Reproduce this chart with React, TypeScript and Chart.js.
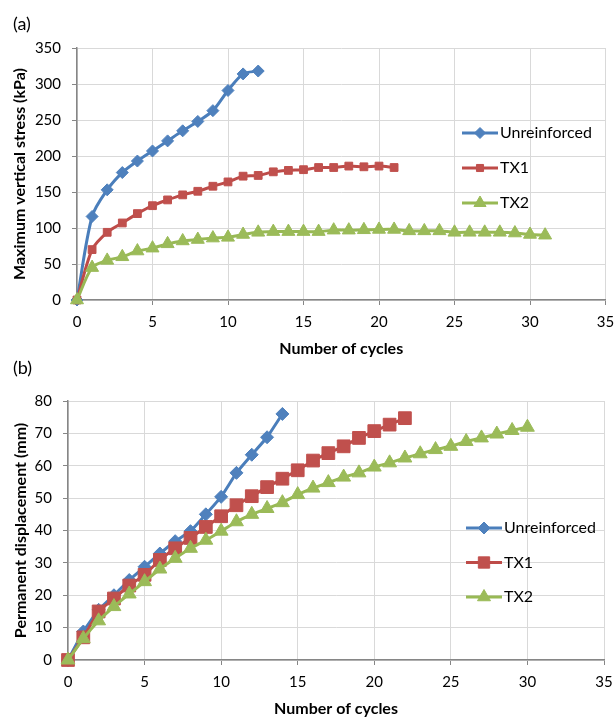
import React, { useEffect, useRef } from 'react';
import { Chart, registerables } from 'chart.js';
import { drawPoint } from 'chart.js/helpers';

Chart.register(...registerables);

// ---------- data ----------
const cycles = [0, 1, 2, 3, 4, 5, 6, 7, 8, 9, 10, 11, 12, 13, 14, 15, 16, 17, 18, 19, 20, 21, 22, 23, 24, 25, 26, 27, 28, 29, 30, 31];
const seriesNames = ['Unreinforced', 'TX1', 'TX2'];

// (a) Maximum vertical stress (kPa)
const stressUnreinforced = [0, 116, 153, 177, 193, 207, 221, 235, 248, 263, 291, 314, 318];
const stressTX1 = [0, 70, 94, 107, 120, 131, 139, 146, 151, 158, 164, 172, 173, 178, 180, 181, 184, 184, 186, 185, 186, 184];
const stressTX2 = [0, 45, 55, 60, 68, 72, 78, 82, 84, 86, 87, 91, 94, 95, 95, 95, 95, 97, 97, 97.5, 98, 98, 96, 96, 96, 94, 94, 94, 94, 93, 91, 90];

// (b) Permanent displacement (mm)
const dispUnreinforced = [0, 8.8, 15.5, 20, 24.7, 28.8, 32.9, 36.7, 39.8, 45, 50.4, 57.8, 63.4, 68.8, 76];
const dispTX1 = [0, 7, 15, 19, 23, 26.3, 30.9, 34.5, 37.7, 41.1, 44.4, 47.8, 50.6, 53.4, 56, 58.6, 61.6, 63.9, 66, 68.6, 70.7, 72.7, 74.7];
const dispTX2 = [0, 6.6, 12.1, 16.5, 20.4, 24.2, 28.1, 31.4, 34.5, 37, 39.8, 42.7, 45, 46.8, 48.6, 51.1, 53.1, 54.8, 56.5, 57.8, 59.6, 60.9, 62.4, 63.7, 65, 66, 67.5, 68.6, 69.8, 70.9, 71.9];

const xTicksMax = 35;
const xTickStep = 5;
const stressMax = 350;
const stressStep = 50;
const dispMax = 80;
const dispStep = 10;

// ---------- styles ----------
const FONT = 'Lato, "Open Sans", sans-serif';
const LINE_COLORS = ['#4A7EBB', '#BE4B48', '#98B954'];
const FILL_COLORS = ['#4F81BD', '#C0504D', '#9BBB59'];
const POINT_STYLES = ['rectRot', 'rect', 'triangle'];
const GRID = '#D9D9D9';
const AXIS = '#868686';

const toXY = (vals: number[]) => vals.map((v, i) => ({ x: cycles[i], y: v }));

const legendPlugin = {
  id: 'inlineLegend',
  afterDraw(chart: any, _args: any, opts: any) {
    const ctx = chart.ctx;
    ctx.save();
    chart.data.datasets.forEach((ds: any, i: number) => {
      const cy = opts.y + i * opts.rowGap;
      ctx.strokeStyle = ds.borderColor;
      ctx.lineWidth = ds.borderWidth;
      ctx.beginPath();
      ctx.moveTo(opts.x, cy);
      ctx.lineTo(opts.x + opts.lineLen, cy);
      ctx.stroke();
      ctx.fillStyle = ds.pointBackgroundColor;
      ctx.strokeStyle = ds.pointBorderColor;
      ctx.lineWidth = ds.pointBorderWidth;
      drawPoint(ctx, { pointStyle: ds.pointStyle, rotation: 0, radius: opts.markerRadius[i], borderWidth: ds.pointBorderWidth }, opts.x + opts.lineLen / 2, cy);
      ctx.fillStyle = '#000';
      ctx.font = `16px ${FONT}`;
      ctx.textBaseline = 'middle';
      ctx.textAlign = 'left';
      ctx.fillText(ds.label, opts.x + opts.lineLen + 2, cy);
    });
    ctx.restore();
  },
};

function makeDataset(i: number, values: number[], radius: number, tension: number) {
  return {
    label: seriesNames[i],
    data: toXY(values),
    borderColor: LINE_COLORS[i],
    backgroundColor: FILL_COLORS[i],
    pointBackgroundColor: FILL_COLORS[i],
    pointBorderColor: FILL_COLORS[i],
    pointBorderWidth: 1,
    borderWidth: 3,
    pointStyle: POINT_STYLES[i],
    pointRadius: radius,
    pointHoverRadius: radius,
    tension,
    clip: false,
    order: 3 - i,
  };
}

function makeScales(yMax: number, yStep: number, yTitle: string, yWidth: number, yTitlePad: number) {
  const tickFont = { family: FONT, size: 15 };
  const titleFont = { family: FONT, size: 16, weight: 'bold' as const };
  return {
    x: {
      type: 'linear' as const,
      min: 0,
      max: xTicksMax,
      ticks: { stepSize: xTickStep, font: tickFont, color: '#000', padding: 8, maxRotation: 0 },
      grid: { color: GRID, tickColor: AXIS, tickLength: 5, lineWidth: 1 },
      border: { color: AXIS, width: 1.5 },
      title: { display: true, text: 'Number of cycles', font: titleFont, color: '#000', padding: { top: 0, bottom: 0 } },
      afterFit: (s: any) => {
        s.height = 58;
        s.paddingLeft = 0;
        s.paddingRight = 0;
      },
    },
    y: {
      type: 'linear' as const,
      min: 0,
      max: yMax,
      ticks: { stepSize: yStep, font: tickFont, color: '#000', padding: 11 },
      grid: { color: GRID, tickColor: AXIS, tickLength: 5, lineWidth: 1 },
      border: { color: AXIS, width: 1.5 },
      title: { display: true, text: yTitle, font: titleFont, color: '#000', padding: { top: yTitlePad, bottom: 0 } },
      afterFit: (s: any) => {
        s.width = yWidth;
      },
    },
  };
}

function ChartA() {
  const ref = useRef<HTMLCanvasElement>(null);
  useEffect(() => {
    const chart = new Chart(ref.current!, {
      type: 'line',
      data: {
        datasets: [
          makeDataset(0, stressUnreinforced, 6, 0.3),
          makeDataset(1, stressTX1, 5.5, 0.3),
          makeDataset(2, stressTX2, 7.5, 0.3),
        ],
      },
      options: {
        responsive: false,
        animation: false,
        devicePixelRatio: 1,
        layout: { padding: { left: 0, right: 7, top: 48, bottom: 2 } },
        scales: makeScales(stressMax, stressStep, 'Maximum vertical stress (kPa)', 77, 10),
        plugins: {
          legend: { display: false },
          tooltip: { enabled: false },
          inlineLegend: { x: 462, y: 133, rowGap: 35, lineLen: 36, markerRadius: [5.5, 5, 7] },
        } as any,
      },
      plugins: [legendPlugin],
    } as any);
    return () => chart.destroy();
  }, []);
  return <canvas ref={ref} width={614} height={360} style={{ position: 'absolute', left: 0, top: 0, width: 614, height: 360 }} />;
}

function ChartB() {
  const ref = useRef<HTMLCanvasElement>(null);
  useEffect(() => {
    const chart = new Chart(ref.current!, {
      type: 'line',
      data: {
        datasets: [
          makeDataset(0, dispUnreinforced, 6.5, 0.1),
          makeDataset(1, dispTX1, 9, 0.1),
          makeDataset(2, dispTX2, 8, 0.1),
        ],
      },
      options: {
        responsive: false,
        animation: false,
        devicePixelRatio: 1,
        layout: { padding: { left: 0, right: 7, top: 42, bottom: 0 } },
        scales: makeScales(dispMax, dispStep, 'Permanent displacement (mm)', 68, 11),
        plugins: {
          legend: { display: false },
          tooltip: { enabled: false },
          inlineLegend: { x: 466, y: 169, rowGap: 34.5, lineLen: 36, markerRadius: [6, 8, 7.5] },
        } as any,
      },
      plugins: [legendPlugin],
    } as any);
    return () => chart.destroy();
  }, []);
  return <canvas ref={ref} width={614} height={359} style={{ position: 'absolute', left: 0, top: 359, width: 614, height: 359 }} />;
}

export default function App() {
  const labelStyle: React.CSSProperties = {
    position: 'absolute',
    left: 13,
    fontFamily: FONT,
    fontSize: 18,
    lineHeight: '18px',
    color: '#000',
  };
  return (
    <div style={{ position: 'absolute', left: 0, top: 0, width: 614, height: 718, background: '#fff', overflow: 'hidden' }}>
      <ChartA />
      <ChartB />
      <div style={{ ...labelStyle, top: 14 }}>(a)</div>
      <div style={{ ...labelStyle, top: 358 }}>(b)</div>
    </div>
  );
}
